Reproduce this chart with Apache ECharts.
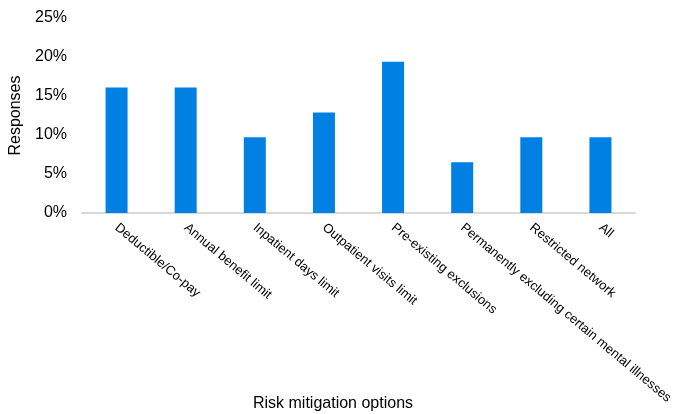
<!DOCTYPE html>
<html>
<head>
<meta charset="utf-8">
<script src="https://cdn.jsdelivr.net/npm/echarts@6/dist/echarts.min.js"></script>
<style>
  html, body { margin: 0; padding: 0; background: #fff; }
  #chart { width: 673px; height: 414px; }
</style>
</head>
<body>
<div id="chart"></div>
<script>
// Share of responses per risk mitigation option (percent)
const categories = [
  'Deductible/Co-pay',
  'Annual benefit limit',
  'Inpatient days limit',
  'Outpatient visits limit',
  'Pre-existing exclusions',
  'Permanently excluding certain mental illnesses',
  'Restricted network',
  'All'
];
const responses = [16.1, 16.1, 9.7, 12.9, 19.4, 6.5, 9.7, 9.7];
const yTicks = [0, 5, 10, 15, 20, 25];

const chart = echarts.init(document.getElementById('chart'), null, { renderer: 'canvas' });
const font = 'Liberation Sans, Arial, sans-serif';

chart.setOption({
  animation: false,
  // x-axis title, placed under the rotated category labels
  title: {
    text: 'Risk mitigation options',
    left: 333,
    top: 396,
    textAlign: 'center',
    padding: 0,
    textStyle: { fontFamily: font, fontSize: 16, fontWeight: 'normal', color: '#000' }
  },
  grid: { left: 82, right: 38, top: 18, bottom: 201, outerBoundsMode: 'none', containLabel: false },
  xAxis: {
    type: 'category',
    data: categories,
    axisLine: { lineStyle: { color: '#d9d9d9', width: 2 } },
    axisTick: { show: false },
    axisLabel: {
      rotate: -40,
      interval: 0,
      margin: 13,
      fontFamily: font,
      fontSize: 13,
      color: '#000'
    }
  },
  yAxis: {
    type: 'value',
    min: yTicks[0],
    max: yTicks[yTicks.length - 1],
    interval: 5,
    name: 'Responses',
    nameLocation: 'middle',
    nameGap: 58,
    nameTextStyle: { fontFamily: font, fontSize: 16, color: '#000' },
    axisLine: { show: false },
    axisTick: { show: false },
    splitLine: { show: false },
    axisLabel: {
      margin: 15,
      fontFamily: font,
      fontSize: 16,
      color: '#000',
      formatter: v => v + '%'
    }
  },
  series: [{
    type: 'bar',
    data: responses,
    barWidth: 22,
    itemStyle: { color: '#0080e3' }
  }]
});
</script>
</body>
</html>
